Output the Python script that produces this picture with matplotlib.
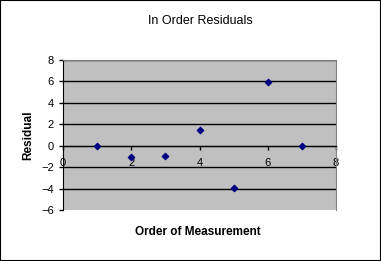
import matplotlib
matplotlib.use("Agg")
import matplotlib.pyplot as plt

order = [1, 2, 3, 4, 5, 6, 7]
residual = [0.0, -1.03, -0.96, 1.47, -3.99, 5.92, 0.0]
xticks = [0, 2, 4, 6, 8]
yticks = [-6, -4, -2, 0, 2, 4, 6, 8]

plt.rcParams['font.family'] = ['Liberation Sans', 'DejaVu Sans']

fig = plt.figure(figsize=(3.81, 2.61), dpi=100)
ax = fig.add_axes([63 / 381, 1 - 210 / 261, (336 - 63) / 381, (210 - 60) / 261])
ax.set_facecolor('#C0C0C0')

for y in yticks[1:]:
    ax.axhline(y, color='black', lw=1, zorder=1)

ax.scatter(order, residual, marker='D', s=10, color='#000080', zorder=3)

ax.set_xlim(0, 8)
ax.set_ylim(-6, 8)
ax.set_xticks(xticks)
ax.set_yticks(yticks)
ax.tick_params(axis='both', labelsize=8, length=3, width=1, color='black')
ax.tick_params(axis='x', direction='out', pad=6)

ax.spines['bottom'].set_position(('data', 0))
ax.spines['bottom'].set_color('black')
ax.spines['left'].set_color('black')
ax.spines['top'].set_color('#808080')
ax.spines['right'].set_color('#808080')
ax.spines['top'].set_linewidth(0.8)
ax.spines['right'].set_linewidth(0.8)

fig.text(200 / 381, 1 - 21 / 261, 'In Order Residuals', ha='center', va='center', fontsize=9)
fig.text(198 / 381, 1 - 232 / 261, 'Order of Measurement', ha='center', va='center',
         fontsize=8.5, fontweight='bold')
fig.text(28 / 381, 1 - 135 / 261, 'Residual', ha='center', va='center', rotation=90,
         fontsize=8.5, fontweight='bold')

fig.patches.append(plt.Rectangle((0, 0), 1, 1, transform=fig.transFigure, fill=False,
                                 edgecolor='black', lw=1.5))

fig.savefig('out.png', dpi=100)
